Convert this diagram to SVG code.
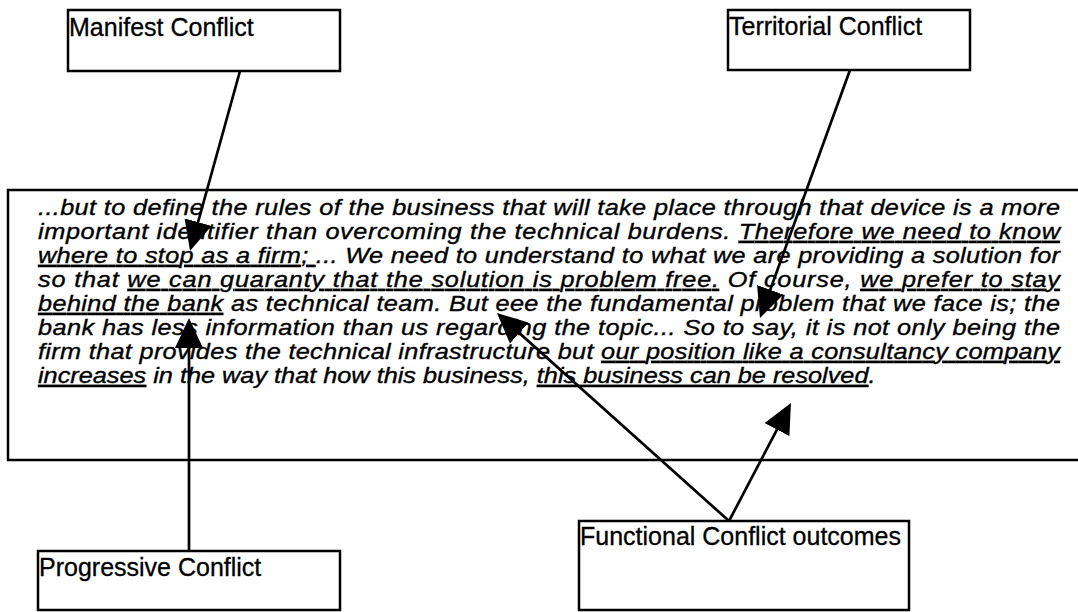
<svg xmlns="http://www.w3.org/2000/svg" width="1078" height="612" viewBox="0 0 1078 612">
<style>
.box{fill:#fff;stroke:#000;stroke-width:2.5}
.lbl{font-family:"Liberation Sans",Arial,sans-serif;font-size:25px;fill:#000;stroke:#000;stroke-width:0.3}
.body{font-family:"Liberation Sans",Arial,sans-serif;font-size:22px;font-style:italic;fill:#000;stroke:#000;stroke-width:0.35}
.u{text-decoration:underline}
.conn{stroke:#000;stroke-width:2.7;fill:none;marker-end:url(#ah)}
</style>
<defs>
<marker id="ah" markerUnits="userSpaceOnUse" markerWidth="30" markerHeight="28" viewBox="0 0 30 28" refX="20" refY="14" orient="auto">
<path d="M0,0 L30,14 L0,28 z" fill="#000"/>
</marker>
</defs>
<rect width="1078" height="612" fill="#fff"/>
<g id="quote">
<rect class="box" x="8" y="190" width="1080" height="270"/>
<g class="body" transform="matrix(1.15,0,0,1,38,0)">
<text x="0" y="215" textLength="888.7" lengthAdjust="spacing">...but to define the rules of the business that will take place through that device is a more</text>
<text x="0" y="239" textLength="888.7" lengthAdjust="spacing">important identifier than overcoming the technical burdens. <tspan class="u">Therefore we need to know</tspan></text>
<text x="0" y="263" textLength="888.7" lengthAdjust="spacing"><tspan class="u">where to stop as a firm; </tspan>... We need to understand to what we are providing a solution for</text>
<text x="0" y="287" textLength="888.7" lengthAdjust="spacing">so that <tspan class="u">we can guaranty that the solution is problem free.</tspan> Of course, <tspan class="u">we prefer to stay</tspan></text>
<text x="0" y="311" textLength="888.7" lengthAdjust="spacing"><tspan class="u">behind the bank</tspan> as technical team. But eee the fundamental problem that we face is; the</text>
<text x="0" y="335" textLength="888.7" lengthAdjust="spacing">bank has less information than us regarding the topic... So to say, it is not only being the</text>
<text x="0" y="359" textLength="888.7" lengthAdjust="spacing">firm that provides the technical infrastructure but <tspan class="u">our position like a consultancy company</tspan></text>
<text x="0" y="383"><tspan class="u">increases</tspan> in the way that how this business, <tspan class="u">this business can be resolved</tspan>.</text>
</g>
</g>
<g id="manifest">
<rect class="box" x="68" y="10" width="272" height="61"/>
<text class="lbl" x="69" y="36">Manifest Conflict</text>
</g>
<g id="territorial">
<rect class="box" x="728" y="10" width="242" height="60"/>
<text class="lbl" x="729" y="35">Territorial Conflict</text>
</g>
<g id="progressive">
<rect class="box" x="38" y="551" width="302" height="59"/>
<text class="lbl" x="39" y="576">Progressive Conflict</text>
</g>
<g id="functional">
<rect class="box" x="579" y="521" width="330" height="89"/>
<text class="lbl" x="580" y="545">Functional Conflict outcomes</text>
</g>
<g id="connectors">
<line class="conn" x1="240" y1="71" x2="192.7" y2="241.4"/>
<line class="conn" x1="850" y1="70" x2="763.4" y2="308.6"/>
<line class="conn" x1="189" y1="551" x2="189" y2="328"/>
<line class="conn" x1="729" y1="521" x2="504.4" y2="319.7"/>
<line class="conn" x1="729" y1="521" x2="786.3" y2="411.9"/>
</g>
</svg>
